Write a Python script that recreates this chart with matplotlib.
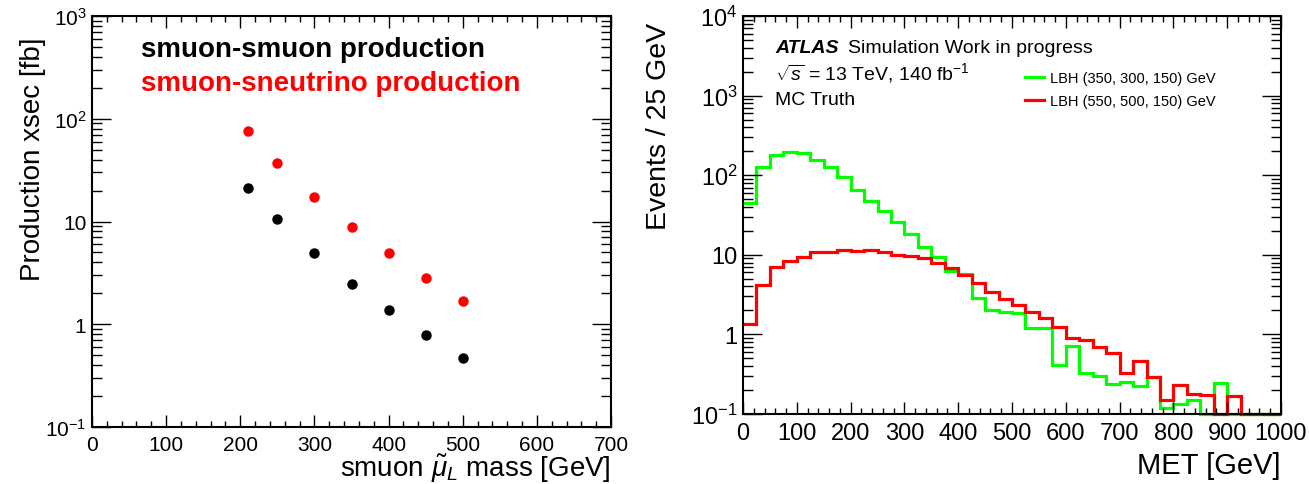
import numpy as np
import matplotlib
matplotlib.use("Agg")
import matplotlib.pyplot as plt
from matplotlib.ticker import MultipleLocator, LogLocator, NullFormatter, FuncFormatter

plt.rcParams['font.family'] = ['Liberation Sans', 'DejaVu Sans']
plt.rcParams['mathtext.fontset'] = 'custom'
plt.rcParams['mathtext.rm'] = 'Liberation Sans'
plt.rcParams['mathtext.it'] = 'Liberation Sans:italic'
plt.rcParams['mathtext.bf'] = 'Liberation Sans:bold'

# left panel: production cross sections vs smuon mass
smuon_mass = [210, 250, 300, 350, 400, 450, 500]
xsec_smuon_smuon = [21, 10.5, 4.9, 2.45, 1.38, 0.78, 0.47]
xsec_smuon_sneutrino = [76, 37, 17.5, 8.9, 4.9, 2.85, 1.7]

# right panel: MET distributions, 25 GeV bins from 0 to 1000 GeV
met_bin_width = 25
met_edges = np.arange(0, 1000 + met_bin_width, met_bin_width)
lbh_350_300_150 = [44.6, 125, 180, 193, 189, 156, 127, 96, 65, 47,
                   35, 25.5, 18.5, 12.7, 9.3, 6.3, 5.7, 2.83, 2.04, 1.89,
                   1.84, 1.19, 1.22, 0.41, 0.72, 0.33, 0.30, 0.24, 0.255, 0.227,
                   0.29, 0.118, 0.134, 0.15, 0, 0.243, 0, 0, 0, 0]
lbh_550_500_150 = [1.37, 4.16, 6.93, 8.24, 9.44, 10.7, 11.0, 11.6, 11.2, 11.6,
                   11.0, 10.0, 9.7, 9.1, 7.86, 6.8, 5.56, 4.41, 3.43, 2.78,
                   2.33, 1.93, 1.60, 1.25, 0.89, 0.85, 0.70, 0.58, 0.33, 0.46,
                   0.29, 0.15, 0.23, 0.18, 0.175, 0, 0.17, 0, 0, 0]


def root_log_label(v, pos):
    n = int(round(np.log10(v)))
    if n == 0:
        return "1"
    if n == 1:
        return "10"
    return "$10^{%d}$" % n


def root_style(ax, xmajor, xminor, tick_size):
    ax.set_yscale('log')
    ax.xaxis.set_major_locator(MultipleLocator(xmajor))
    ax.xaxis.set_minor_locator(MultipleLocator(xminor))
    ax.yaxis.set_major_locator(LogLocator(base=10, numticks=20))
    ax.yaxis.set_minor_locator(LogLocator(base=10, subs=np.arange(2, 10), numticks=20))
    ax.yaxis.set_major_formatter(FuncFormatter(root_log_label))
    ax.yaxis.set_minor_formatter(NullFormatter())
    ax.tick_params(which='both', direction='in', top=True, right=True, width=1.0)
    ax.tick_params(axis='x', which='major', length=8.5, labelsize=tick_size, pad=6)
    ax.tick_params(axis='x', which='minor', length=4)
    ax.tick_params(axis='y', which='major', length=13.5, labelsize=tick_size, pad=4)
    ax.tick_params(axis='y', which='minor', length=7)
    for s in ax.spines.values():
        s.set_linewidth(1.5)


fig = plt.figure(figsize=(13.09, 4.85), dpi=100)
W, H = 1309, 485

# ---- left panel
ax1 = fig.add_axes([92 / W, 1 - 428 / H, (611 - 92) / W, (428 - 17) / H])
ax1.plot(smuon_mass, xsec_smuon_smuon, 'o', color='black', markersize=6.5)
ax1.plot(smuon_mass, xsec_smuon_sneutrino, 'o', color='#ff0000', markersize=6.5)
ax1.set_xlim(0, 700)
ax1.set_ylim(0.1, 1000)
root_style(ax1, 100, 20, 15)
ax1.set_ylabel("Production xsec [fb]", fontsize=20, loc='top')
ax1.yaxis.set_label_coords(-0.089, 0.949)
ax1.set_xlabel(r"smuon $\tilde{\mu}_{L}$ mass [GeV]", fontsize=20, loc='right')
ax1.xaxis.set_label_coords(1.0, -0.06)
ax1.text(0.094, 0.92, "smuon-smuon production", transform=ax1.transAxes,
         fontsize=20, fontweight='bold', color='black', va='center')
ax1.text(0.094, 0.837, "smuon-sneutrino production", transform=ax1.transAxes,
         fontsize=20, fontweight='bold', color='#ff0000', va='center')

# ---- right panel
ymin2 = 0.1
ax2 = fig.add_axes([743 / W, 1 - 415 / H, (1281 - 743) / W, (415 - 17) / H])
green = np.array(lbh_350_300_150, dtype=float)
red = np.array(lbh_550_500_150, dtype=float)
ax2.stairs(np.where(green > 0, green, ymin2), met_edges, baseline=None,
           color='#00ff00', linewidth=2.3, label="LBH (350, 300, 150) GeV", clip_on=False)
ax2.stairs(np.where(red > 0, red, ymin2), met_edges, baseline=None,
           color='#ff0000', linewidth=2.3, label="LBH (550, 500, 150) GeV", clip_on=False)
ax2.set_xlim(0, 1000)
ax2.set_ylim(ymin2, 1e4)
root_style(ax2, 100, 20, 17)
ax2.set_ylabel("Events / 25 GeV", fontsize=20.5, loc='top')
ax2.yaxis.set_label_coords(-0.132, 0.985)
ax2.set_xlabel("MET [GeV]", fontsize=21, loc='right')
ax2.xaxis.set_label_coords(1.0, -0.093)

ax2.text(0.0595, 0.922, "ATLAS", transform=ax2.transAxes, fontsize=14,
         fontweight='bold', fontstyle='italic', va='center')
ax2.text(0.195, 0.922, "Simulation Work in progress", transform=ax2.transAxes,
         fontsize=14, va='center')
ax2.text(0.0595, 0.859, r"$\sqrt{s}$ = 13 TeV, 140 fb$^{-1}$", transform=ax2.transAxes,
         fontsize=14, va='center')
ax2.text(0.0595, 0.791, "MC Truth", transform=ax2.transAxes, fontsize=14, va='center')
ax2.legend(loc='upper left', bbox_to_anchor=(0.524, 0.862), frameon=False,
           fontsize=10.5, borderpad=0, borderaxespad=0, handlelength=1.3,
           handletextpad=0.4, labelspacing=0.65)

fig.savefig("out.png", dpi=100)
